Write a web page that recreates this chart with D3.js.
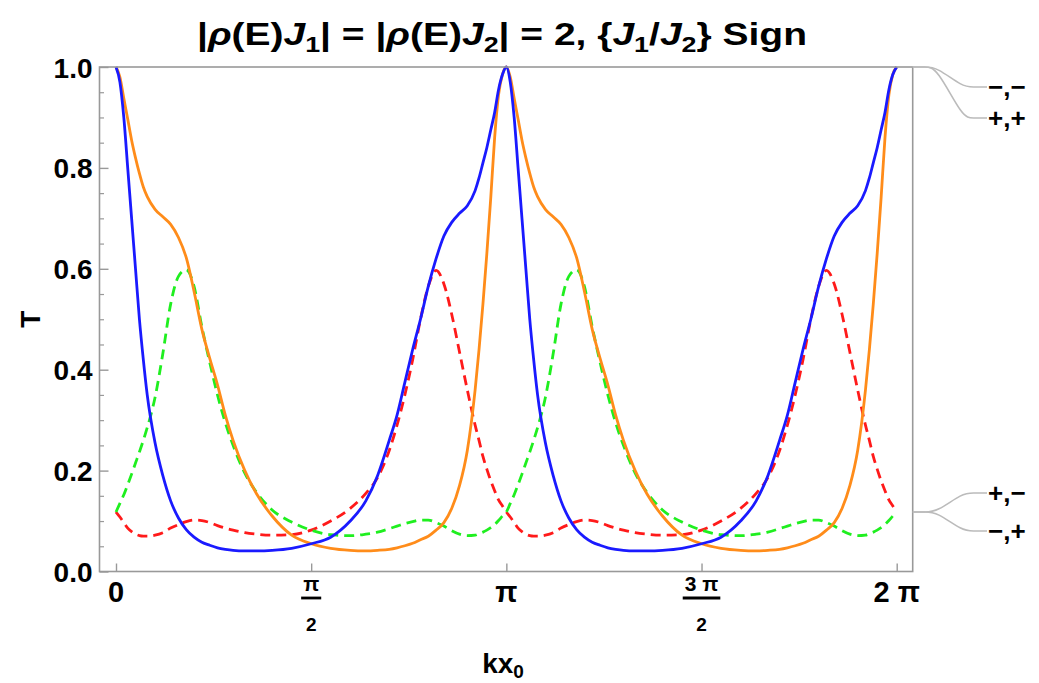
<!DOCTYPE html>
<html>
<head>
<meta charset="utf-8">
<script src="https://cdn.jsdelivr.net/npm/d3@7"></script>
<style>
  body { margin: 0; background: #fff; }
  svg { font-family: "Liberation Sans", Arial, sans-serif; font-weight: bold; }
</style>
</head>
<body>
<svg id="chart" width="1039" height="683"></svg>
<script>
// kx0 sample positions, in units of π
const kx = [
  0, 0.01, 0.02, 0.03, 0.04, 0.05, 0.06, 0.07, 0.08, 0.10, 0.12, 0.14, 0.16, 0.18, 0.20, 0.22,
  0.24, 0.26, 0.28, 0.30, 0.33, 0.36, 0.40, 0.45, 0.50, 0.55, 0.60, 0.64, 0.67, 0.70, 0.72, 0.74,
  0.76, 0.78, 0.80, 0.82, 0.84, 0.86, 0.88, 0.90, 0.92, 0.93, 0.94, 0.95, 0.96, 0.97, 0.98, 0.99,
  1.00, 1.01, 1.02, 1.03, 1.04, 1.05, 1.06, 1.07, 1.08, 1.10, 1.12, 1.14, 1.16, 1.18, 1.20, 1.22,
  1.24, 1.26, 1.28, 1.30, 1.33, 1.36, 1.40, 1.45, 1.50, 1.55, 1.60, 1.64, 1.67, 1.70, 1.72, 1.74,
  1.76, 1.78, 1.80, 1.82, 1.84, 1.86, 1.88, 1.90, 1.92, 1.93, 1.94, 1.95, 1.96, 1.97, 1.98, 1.99,
  2.00
];

// Transmission T for each sign combination {J1/J2}
const tMinusMinus = [ // blue
  1.0, 0.97, 0.90, 0.80, 0.70, 0.60, 0.50, 0.42, 0.35, 0.255, 0.19, 0.14, 0.106, 0.083, 0.068, 0.058,
  0.052, 0.047, 0.044, 0.042, 0.041, 0.041, 0.042, 0.046, 0.055, 0.068, 0.10, 0.14, 0.19, 0.26, 0.31, 0.375,
  0.44, 0.50, 0.565, 0.62, 0.665, 0.692, 0.71, 0.725, 0.755, 0.78, 0.81, 0.84, 0.875, 0.91, 0.955, 0.985,
  1.0, 0.97, 0.90, 0.80, 0.70, 0.60, 0.50, 0.42, 0.35, 0.255, 0.19, 0.14, 0.106, 0.083, 0.068, 0.058,
  0.052, 0.047, 0.044, 0.042, 0.041, 0.041, 0.042, 0.046, 0.055, 0.068, 0.10, 0.14, 0.19, 0.26, 0.31, 0.375,
  0.44, 0.50, 0.565, 0.62, 0.665, 0.692, 0.71, 0.725, 0.755, 0.78, 0.81, 0.84, 0.875, 0.91, 0.955, 0.985,
  1.0
];
const tPlusPlus = [ // orange
  1.0, 0.98, 0.938, 0.897, 0.855, 0.82, 0.789, 0.762, 0.743, 0.718, 0.703, 0.688, 0.662, 0.622, 0.555, 0.48,
  0.423, 0.37, 0.31, 0.26, 0.20, 0.154, 0.11, 0.072, 0.055, 0.046, 0.042, 0.041, 0.042, 0.044, 0.047, 0.051,
  0.056, 0.063, 0.07, 0.082, 0.097, 0.125, 0.17, 0.24, 0.36, 0.44, 0.53, 0.63, 0.74, 0.86, 0.945, 0.985,
  1.0, 0.98, 0.938, 0.897, 0.855, 0.82, 0.789, 0.762, 0.743, 0.718, 0.703, 0.688, 0.662, 0.622, 0.555, 0.48,
  0.423, 0.37, 0.31, 0.26, 0.20, 0.154, 0.11, 0.072, 0.055, 0.046, 0.042, 0.041, 0.042, 0.044, 0.047, 0.051,
  0.056, 0.063, 0.07, 0.082, 0.097, 0.125, 0.17, 0.24, 0.36, 0.44, 0.53, 0.63, 0.74, 0.86, 0.945, 0.985,
  1.0
];
const tPlusMinus = [ // green, dashed
  0.118, 0.135, 0.152, 0.172, 0.193, 0.215, 0.237, 0.26, 0.285, 0.345, 0.432, 0.53, 0.585, 0.598, 0.565, 0.485,
  0.415, 0.35, 0.295, 0.25, 0.195, 0.157, 0.122, 0.098, 0.082, 0.073, 0.071, 0.074, 0.078, 0.085, 0.09, 0.095,
  0.099, 0.102, 0.102, 0.097, 0.09, 0.081, 0.074, 0.071, 0.072, 0.075, 0.078, 0.082, 0.087, 0.093, 0.101, 0.11,
  0.118, 0.135, 0.152, 0.172, 0.193, 0.215, 0.237, 0.26, 0.285, 0.345, 0.432, 0.53, 0.585, 0.598, 0.565, 0.485,
  0.415, 0.35, 0.295, 0.25, 0.195, 0.157, 0.122, 0.098, 0.082, 0.073, 0.071, 0.074, 0.078, 0.085, 0.09, 0.095,
  0.099, 0.102, 0.102, 0.097, 0.09, 0.081, 0.074, 0.071, 0.072, 0.075, 0.078, 0.082, 0.087, 0.093, 0.101, 0.11,
  0.118
];
const tMinusPlus = [ // red, dashed
  0.118, 0.108, 0.097, 0.086, 0.079, 0.074, 0.071, 0.07, 0.07, 0.072, 0.077, 0.086, 0.093, 0.099, 0.102, 0.101,
  0.097, 0.091, 0.086, 0.082, 0.077, 0.074, 0.072, 0.073, 0.082, 0.10, 0.125, 0.155, 0.186, 0.24, 0.29, 0.35,
  0.42, 0.50, 0.565, 0.597, 0.57, 0.51, 0.435, 0.36, 0.29, 0.26, 0.228, 0.203, 0.18, 0.16, 0.142, 0.13,
  0.118, 0.108, 0.097, 0.086, 0.079, 0.074, 0.071, 0.07, 0.07, 0.072, 0.077, 0.086, 0.093, 0.099, 0.102, 0.101,
  0.097, 0.091, 0.086, 0.082, 0.077, 0.074, 0.072, 0.073, 0.082, 0.10, 0.125, 0.155, 0.186, 0.24, 0.29, 0.35,
  0.42, 0.50, 0.565, 0.597, 0.57, 0.51, 0.435, 0.36, 0.29, 0.26, 0.228, 0.203, 0.18, 0.16, 0.142, 0.13,
  0.118
];

// Axis ticks and labels
const xTickValues = [0, 0.5, 1, 1.5, 2];
const xTickLabels = [
  { num: "0" }, { num: "π", den: "2" }, { num: "π" }, { num: "3 π", den: "2" }, { num: "2 π" }
];
const yTickValues = [0, 0.2, 0.4, 0.6, 0.8, 1.0];
const yMinorValues = d3.range(0, 1.0001, 0.05);

// Callout labels at the right end
const calloutTop = ["−,−", "+,+"];
const calloutBottom = ["+,−", "−,+"];

const series = [
  { values: tMinusPlus, color: "#ff1a1a", dash: "10,6" },
  { values: tPlusMinus, color: "#1fef1f", dash: "10,6" },
  { values: tPlusPlus, color: "#ff8c1a", dash: null },
  { values: tMinusMinus, color: "#1a1aff", dash: null }
];

const svg = d3.select("#chart");
const frame = { left: 99.5, right: 912.7, top: 67, bottom: 571.5 };

const x = d3.scaleLinear().domain([0, 2]).range([116, 896.7]);
const y = d3.scaleLinear().domain([0, 1]).range([frame.bottom, frame.top]);

// Curves
const line = d3.line()
  .x((d, i) => x(kx[i]))
  .y(d => y(d))
  .curve(d3.curveMonotoneX);

const plot = svg.append("g");
series.forEach(s => {
  plot.append("path")
    .attr("d", line(s.values))
    .attr("fill", "none")
    .attr("stroke", s.color)
    .attr("stroke-width", 2.8)
    .attr("stroke-linejoin", "round")
    .attr("stroke-dasharray", s.dash);
});

// Frame
const frameColor = "#999";
svg.append("rect")
  .attr("x", frame.left).attr("y", frame.top)
  .attr("width", frame.right - frame.left)
  .attr("height", frame.bottom - frame.top)
  .attr("fill", "none").attr("stroke", frameColor).attr("stroke-width", 1.6);

// Left axis: major and minor ticks pointing inward
const yAxis = svg.append("g").attr("transform", `translate(${frame.left},0)`)
  .call(d3.axisLeft(y).tickValues(yTickValues).tickSize(-9).tickPadding(7)
    .tickFormat(d3.format(".1f")));
yAxis.select(".domain").remove();
yAxis.selectAll(".tick line").attr("stroke", frameColor).attr("stroke-width", 1.4);
yAxis.selectAll(".tick text").attr("font-size", 28).attr("font-family", null)
  .attr("fill", "#000").attr("dy", "0.36em");

const yMinor = svg.append("g").attr("transform", `translate(${frame.left},0)`)
  .call(d3.axisLeft(y).tickValues(yMinorValues.filter(v => Math.round(v * 100) % 20 !== 0))
    .tickSize(-4.5).tickFormat(""));
yMinor.select(".domain").remove();
yMinor.selectAll(".tick line").attr("stroke", frameColor).attr("stroke-width", 1.2);

// Bottom axis ticks
const xAxis = svg.append("g").attr("transform", `translate(0,${frame.bottom})`)
  .call(d3.axisBottom(x).tickValues(xTickValues).tickSize(-8).tickFormat(""));
xAxis.select(".domain").remove();
xAxis.selectAll(".tick line").attr("stroke", frameColor).attr("stroke-width", 1.4);

// Bottom tick labels (plain or stacked fraction)
const xl = svg.append("g").selectAll("g").data(xTickValues).join("g")
  .attr("transform", d => `translate(${x(d)},0)`);
xl.each(function (d, i) {
  const g = d3.select(this);
  const lab = xTickLabels[i];
  if (!lab.den) {
    g.append("text").attr("y", 602).attr("text-anchor", "middle")
      .attr("font-size", 29).text(lab.num);
  } else {
    const num = g.append("text").attr("y", 591).attr("text-anchor", "middle")
      .attr("font-size", 21).text(lab.num);
    const w = num.node().getComputedTextLength() + 4;
    g.append("line").attr("x1", -w / 2).attr("x2", w / 2)
      .attr("y1", 598).attr("y2", 598).attr("stroke", "#000").attr("stroke-width", 2.8);
    g.append("text").attr("y", 631).attr("text-anchor", "middle")
      .attr("font-size", 19).text(lab.den);
  }
});

// Axis titles
svg.append("text")
  .attr("transform", `translate(40,${(frame.top + frame.bottom) / 2}) rotate(-90)`)
  .attr("text-anchor", "middle").attr("font-size", 28).text("T");

const xt = svg.append("text").attr("x", 503).attr("y", 673)
  .attr("text-anchor", "middle").attr("font-size", 28);
xt.append("tspan").text("kx");
xt.append("tspan").attr("font-size", 19).attr("dy", 5).text("0");

// Title
const title = svg.append("text").attr("x", 502).attr("y", 45)
  .attr("text-anchor", "middle").attr("font-size", 32)
  .attr("textLength", 610).attr("lengthAdjust", "spacingAndGlyphs");
const parts = [
  ["|", 0], ["ρ", "i"], ["(E)", 0], ["J", "i"], ["1", "s"], ["| = |", 0], ["ρ", "i"], ["(E)", 0],
  ["J", "i"], ["2", "s"], ["| = 2, {", 0], ["J", "i"], ["1", "s"], ["/", 0], ["J", "i"], ["2", "s"], ["} Sign", 0]
];
let shifted = false;
parts.forEach(([t, k]) => {
  const ts = title.append("tspan").text(t);
  if (k === "i") ts.attr("font-style", "italic");
  if (k === "s") { ts.attr("font-size", 22).attr("dy", 7); shifted = true; }
  else if (shifted) { ts.attr("dy", -7); shifted = false; }
});

// Callouts from the right frame
const callout = d3.line().curve(d3.curveBasis);
const xEdge = frame.right, xLabel = 987;
function drawCallout(yStart, yEnd, text) {
  const pts = [[xEdge, yStart], [xEdge + 12, yStart], [xEdge + 24, yStart],
    [xEdge + 50, yEnd], [xLabel - 14, yEnd], [xLabel, yEnd]];
  svg.append("path").attr("d", callout(pts)).attr("fill", "none")
    .attr("stroke", "#bbb").attr("stroke-width", 1.6);
  svg.append("text").attr("x", xLabel + 1).attr("y", yEnd).attr("dy", "0.36em")
    .attr("font-size", 26).text(text);
}
const yTopEnd = y(tMinusMinus[tMinusMinus.length - 1]);
const yBotEnd = y(tPlusMinus[tPlusMinus.length - 1]);
drawCallout(yTopEnd, yTopEnd + 20, calloutTop[0]);
drawCallout(yTopEnd, yTopEnd + 51, calloutTop[1]);
drawCallout(yBotEnd, yBotEnd - 19, calloutBottom[0]);
drawCallout(yBotEnd, yBotEnd + 19, calloutBottom[1]);
</script>
</body>
</html>
